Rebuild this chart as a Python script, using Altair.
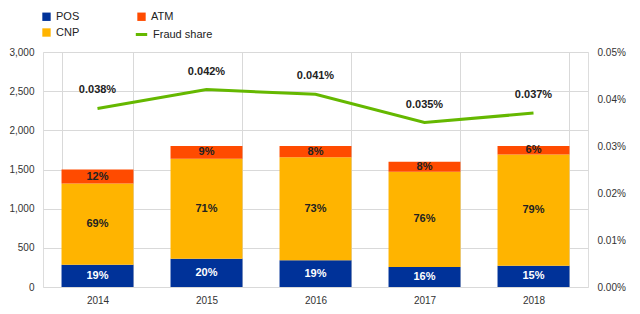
import altair as alt
import pandas as pd

years = ["2014", "2015", "2016", "2017", "2018"]
pos_vals = [285, 360, 342, 256, 270]
cnp_vals = [1035, 1278, 1314, 1216, 1422]
atm_vals = [180, 162, 144, 128, 108]
pos_share = ["19%", "20%", "19%", "16%", "15%"]
cnp_share = ["69%", "71%", "73%", "76%", "79%"]
atm_share = ["12%", "9%", "8%", "8%", "6%"]
fraud_share = [0.00038, 0.00042, 0.00041, 0.00035, 0.00037]

FONT = "Liberation Sans"
COLORS = {"POS": "#003299", "ATM": "#FF4B00", "CNP": "#FFB400"}
GREEN = "#65B800"

rows = []
for i, y in enumerate(years):
    rows.append({"year": y, "cat": "POS", "ord": 0, "value": pos_vals[i], "label": pos_share[i]})
    rows.append({"year": y, "cat": "CNP", "ord": 1, "value": cnp_vals[i], "label": cnp_share[i]})
    rows.append({"year": y, "cat": "ATM", "ord": 2, "value": atm_vals[i], "label": atm_share[i]})
bars_df = pd.DataFrame(rows)
line_df = pd.DataFrame({"year": years, "share": fraud_share, "series": ["Fraud share"] * len(years)})

x_enc = alt.X(
    "year:N",
    title=None,
    scale=alt.Scale(paddingInner=0.34, paddingOuter=0.17),
    axis=alt.Axis(grid=True, tickBand="extent", ticks=False, domain=False,
                  labelAngle=0, labelPadding=8, labelFontSize=10, labelColor="#333",
                  labelFont=FONT, gridColor="#d9d9d9"),
)

left_axis = alt.Axis(values=[0, 500, 1000, 1500, 2000, 2500, 3000], format=",.0f",
                     ticks=False, domain=False, labelPadding=9, labelFontSize=10,
                     labelColor="#333", labelFont=FONT, gridColor="#d9d9d9", title=None)
left_scale = alt.Scale(domain=[0, 3000])

base = alt.Chart(bars_df).transform_stack(
    stack="value", groupby=["year"], sort=[alt.SortField("ord")], as_=["y0", "y1"]
).transform_calculate(mid="(datum.y0 + datum.y1) / 2")

bars = base.mark_bar().encode(
    x=x_enc,
    y=alt.Y("y0:Q", title=None, scale=left_scale, axis=left_axis),
    y2="y1:Q",
    color=alt.Color("cat:N",
                    scale=alt.Scale(domain=["POS", "CNP", "ATM"],
                                    range=[COLORS["POS"], COLORS["CNP"], COLORS["ATM"]]),
                    legend=alt.Legend(orient="none", legendX=-2, legendY=-41, columns=2,
                                      title=None, symbolType="square", symbolSize=70,
                                      labelFontSize=11, labelFont=FONT, labelColor="#222",
                                      columnPadding=56, rowPadding=4, padding=0,
                                      symbolStrokeWidth=0)),
)

bar_text = base.mark_text(fontWeight="bold", fontSize=11, font=FONT).encode(
    x="year:N",
    y=alt.Y("mid:Q", title=None, scale=left_scale, axis=left_axis),
    text="label:N",
    color=alt.condition(alt.datum.cat == "POS", alt.value("white"), alt.value("#222")),
)

left = alt.layer(bars, bar_text)

right_axis = alt.Axis(orient="right", values=[0, 0.0001, 0.0002, 0.0003, 0.0004, 0.0005],
                      format=".2%", grid=False, ticks=False, domain=False, title=None,
                      labelPadding=9, labelFontSize=10, labelColor="#333", labelFont=FONT)
right_scale = alt.Scale(domain=[0, 0.0005])

line = alt.Chart(line_df).mark_line(strokeWidth=3).encode(
    x="year:N",
    y=alt.Y("share:Q", title=None, scale=right_scale, axis=right_axis),
    stroke=alt.Stroke("series:N", scale=alt.Scale(domain=["Fraud share"], range=[GREEN]),
                      legend=alt.Legend(orient="none", legendX=91, legendY=-25, title=None,
                                        symbolType="stroke", symbolStrokeWidth=3,
                                        symbolSize=130, labelFontSize=11, labelFont=FONT,
                                        labelColor="#222", padding=0)),
)

line_text = alt.Chart(line_df).mark_text(dy=-18, fontWeight="bold", fontSize=11, font=FONT,
                                         color="#222").encode(
    x="year:N",
    y=alt.Y("share:Q", title=None, scale=right_scale, axis=right_axis),
    text=alt.Text("share:Q", format=".3%"),
)

right = alt.layer(line, line_text)

chart = alt.layer(left, right).resolve_scale(y="independent", color="independent").properties(
    width=545, height=235,
    padding={"left": 0, "top": 3, "right": 5, "bottom": 5},
).configure_view(stroke="#d9d9d9").configure(background="white")

chart.save("out.html", embed_options={"renderer": "svg", "actions": False})
